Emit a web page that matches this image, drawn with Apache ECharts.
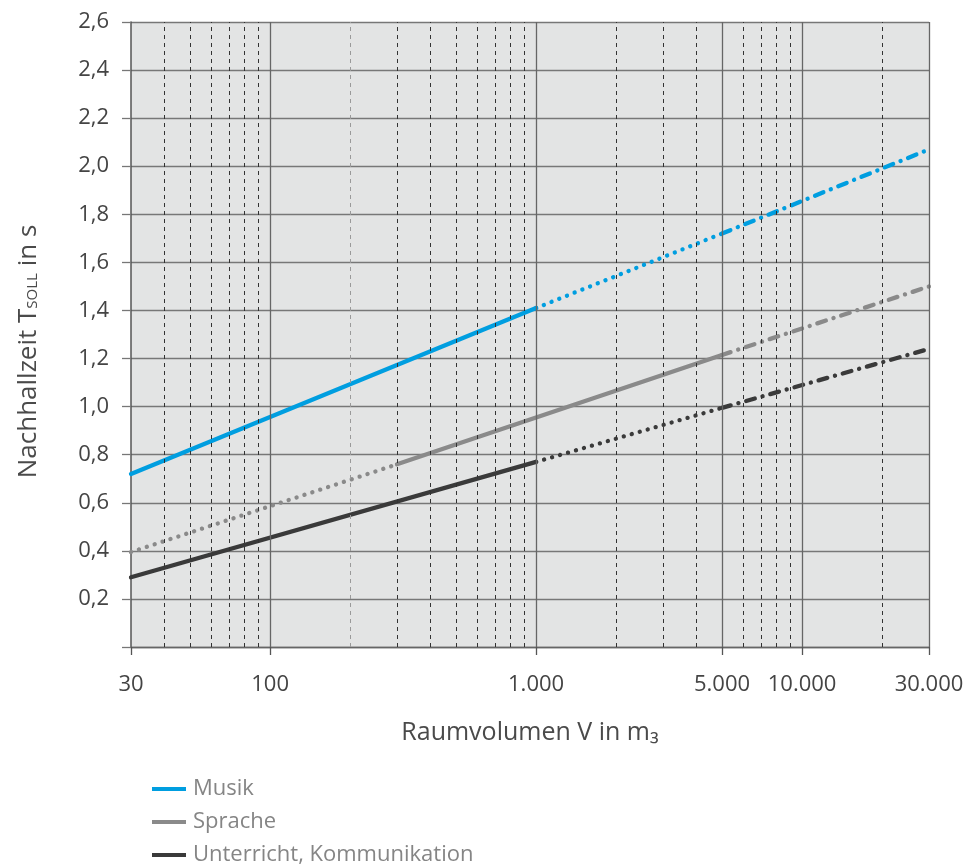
<!DOCTYPE html>
<html><head><meta charset="utf-8">
<script src="https://cdn.jsdelivr.net/npm/echarts@6/dist/echarts.min.js"></script>
<style>html,body{margin:0;padding:0;background:#fff}#c{width:963px;height:865px}</style>
</head><body><div id="c"></div>
<script>
// Data: [V in m³, T in s]
const musikSolid   = [[30, 0.72], [1000, 1.41]];
const musikDotted  = [[1000, 1.41], [5000, 1.72]];
const musikDashDot = [[5000, 1.72], [30000, 2.07]];
const spracheDotted  = [[30, 0.395], [300, 0.76]];
const spracheSolid   = [[300, 0.76], [5000, 1.215]];
const spracheDashDot = [[5000, 1.215], [30000, 1.50]];
const unterrichtSolid   = [[30, 0.29], [1000, 0.77]];
const unterrichtDotted  = [[1000, 0.77], [5000, 0.995]];
const unterrichtDashDot = [[5000, 0.995], [30000, 1.24]];

const xTickLabels = [30, 100, 1000, 5000, 10000, 30000];
const solidGridX = [100, 1000, 5000, 10000, 30000];
const dashedGridX = [40, 50, 60, 70, 80, 90, 300, 400, 500, 600, 700, 800, 900, 2000, 3000, 4000, 6000, 7000, 8000, 9000, 20000];
const lightDashedGridX = [200];
const names = ['Musik', 'Sprache', 'Unterricht, Kommunikation'];
const colors = ['#009ee0', '#8a8a8a', '#3a3a3a'];

const FONT = '"Open Sans", Lato, sans-serif';
const DOT = [0.1, 8.2];
const DASHDOT = [9, 8, 0.1, 8];

function fmtX(v) {
  return String(Math.round(v)).replace(/\B(?=(\d{3})+(?!\d))/g, '.');
}
function seg(name, color, data, type) {
  return {
    name: name, type: 'line', data: data, symbol: 'none', z: 3,
    color: color,
    lineStyle: { color: color, width: 4.3, type: type, cap: 'round' },
    silent: true, animation: false
  };
}
const gridLines = [];
solidGridX.forEach(v => gridLines.push({ xAxis: v, lineStyle: { color: '#666', width: 1.3, type: 'solid' } }));
dashedGridX.forEach(v => gridLines.push({ xAxis: v, lineStyle: { color: '#333', width: 1, type: [4, 4] } }));
lightDashedGridX.forEach(v => gridLines.push({ xAxis: v, lineStyle: { color: '#9a9a9a', width: 1, type: [4, 4] } }));

const chart = echarts.init(document.getElementById('c'));
chart.setOption({
  animation: false,
  backgroundColor: '#fff',
  grid: { left: 131, right: 34, top: 22, bottom: 218, show: true, backgroundColor: '#e3e4e4', borderWidth: 0,
    outerBoundsMode: 'none', containLabel: false },
  legend: {
    orient: 'vertical', left: 152, top: 778, height: 120, padding: 0, itemGap: 11,
    icon: 'rect', itemWidth: 34, itemHeight: 4,
    textStyle: { color: '#858585', fontSize: 22, fontFamily: FONT, lineHeight: 22, padding: [0, 0, 0, 2] },
    data: names
  },
  xAxis: {
    type: 'log', logBase: 10, min: 30, max: 30000,
    name: 'Raumvolumen V in m₃', nameLocation: 'middle', nameGap: 73,
    nameTextStyle: { fontSize: 25, color: '#4a4a4a', fontFamily: FONT },
    axisLine: { show: true, lineStyle: { color: '#666', width: 1.3 } },
    axisTick: { show: true, length: 8, lineStyle: { color: '#555', width: 1.3 }, customValues: xTickLabels },
    axisLabel: { customValues: xTickLabels, formatter: fmtX, fontSize: 22, color: '#444', fontFamily: FONT, margin: 27 },
    splitLine: { show: false }, minorTick: { show: false }, minorSplitLine: { show: false }
  },
  yAxis: {
    type: 'value', min: 0, max: 2.6, interval: 0.2,
    name: 'Nachhallzeit T{sub|SOLL} in s', nameLocation: 'middle', nameGap: 89, nameRotate: 90,
    nameTextStyle: { fontSize: 26, color: '#4a4a4a', fontFamily: FONT, verticalAlign: 'bottom', padding: [0, 34, 0, 0],
      rich: { sub: { fontSize: 15, color: '#4a4a4a', fontFamily: FONT, verticalAlign: 'bottom', padding: [0, 0, 2, 0] } } },
    axisLine: { show: true, lineStyle: { color: '#555', width: 1.5 } },
    axisTick: { show: true, length: 9, lineStyle: { color: '#777', width: 1.3 } },
    axisLabel: { formatter: v => (v === 0 ? '' : v.toFixed(1).replace('.', ',')), fontSize: 22, color: '#444', fontFamily: FONT, margin: 22 },
    splitLine: { show: true, lineStyle: { color: '#777', width: 1.3 } }
  },
  series: [
    { name: 'grid', type: 'line', data: [], z: 1, silent: true,
      markLine: { silent: true, symbol: ['none', 'none'], label: { show: false }, animation: false, data: gridLines } },
    seg(names[0], colors[0], musikSolid, 'solid'),
    seg(names[0], colors[0], musikDotted, DOT),
    seg(names[0], colors[0], musikDashDot, DASHDOT),
    seg(names[1], colors[1], spracheDotted, DOT),
    seg(names[1], colors[1], spracheSolid, 'solid'),
    seg(names[1], colors[1], spracheDashDot, DASHDOT),
    seg(names[2], colors[2], unterrichtSolid, 'solid'),
    seg(names[2], colors[2], unterrichtDotted, DOT),
    seg(names[2], colors[2], unterrichtDashDot, DASHDOT)
  ]
});
</script></body></html>
